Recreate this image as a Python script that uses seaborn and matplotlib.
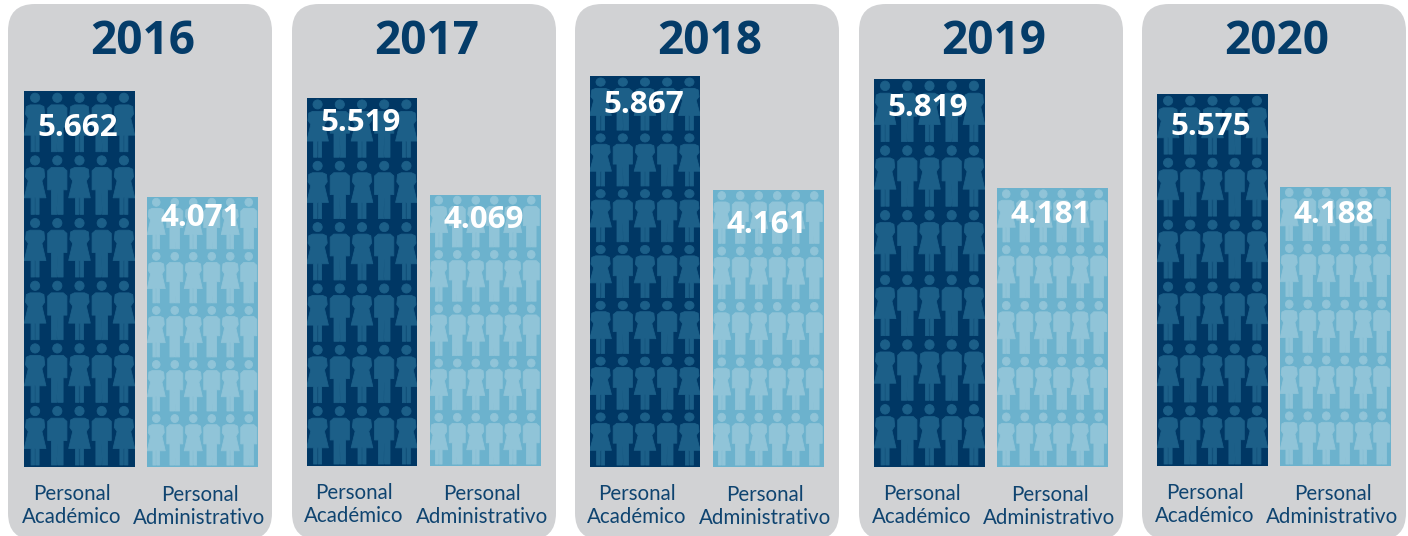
import matplotlib
matplotlib.use("Agg")
import matplotlib.pyplot as plt
import pandas as pd
import seaborn as sns
from matplotlib.patches import FancyBboxPatch, PathPatch
from matplotlib.path import Path
from matplotlib.transforms import Affine2D, ScaledTranslation

years = ["2016", "2017", "2018", "2019", "2020"]
categories = ["Personal\nAcadémico", "Personal\nAdministrativo"]
academico = [5662, 5519, 5867, 5819, 5575]
administrativo = [4071, 4069, 4161, 4181, 4188]

# layout, in pixels of the 1408x536 picture
W, H = 1408, 536
panel_left = [8, 292, 575, 859, 1142]
panel_width = 264
bar_left = [24, 306.5, 589.5, 874, 1157]
bar_bottom = [467, 466, 467, 467, 466]
bar_span = 234
value_drop = [(33, 18), (22, 22), (25, 32), (26, 23), (29, 25)]
rows_dark = [6, 6, 7, 6, 6]
rows_light = [5, 5, 5, 5, 5]
px_per_unit = [0.0664, 0.0667, 0.0666, 0.0667, 0.0667]

DARK = "#003764"
LIGHT = "#6cb2cd"
DARK_ICON = "#1c5f88"
LIGHT_ICON = "#90c4d8"
PANEL = "#d1d2d4"
TEXT = "#0f4470"


def person(woman):
    # drawn for a 22 px column and a 62.5 px row, feet at y=0
    head = Path.circle((0, 54.3), 4.6)
    if woman:
        pts = [(-4, 0.5), (-4, 17), (-10.8, 17), (-6.8, 34), (-9.6, 38), (-8.8, 45.5),
               (-5, 47.2), (5, 47.2), (8.8, 45.5), (9.6, 38), (6.8, 34), (10.8, 17),
               (4, 17), (4, 0.5), (0.6, 0.5), (0.6, 17), (-0.6, 17), (-0.6, 0.5), (-4, 0.5)]
    else:
        pts = [(-5.8, 0.5), (-5.8, 25), (-9.6, 25), (-9.6, 44), (-6, 47.2), (6, 47.2),
               (9.6, 44), (9.6, 25), (5.8, 25), (5.8, 0.5), (0.5, 0.5), (0, 22),
               (-0.5, 0.5), (-5.8, 0.5)]
    return Path.make_compound_path(head, Path(pts, closed=True))


WOMAN = person(True)
MAN = person(False)


def fill_bar(ax, bar, cols, rows, color):
    col_w = bar.get_width() / cols
    row_h = bar.get_height() / rows
    one_px_x = (ax.get_xlim()[1] - ax.get_xlim()[0]) / bar_span
    one_px_y = (ax.get_ylim()[1] - ax.get_ylim()[0]) / 400
    col_px = col_w / one_px_x
    row_px = row_h / one_px_y
    for r in range(rows):
        for c in range(cols):
            icon = WOMAN if c % 2 == 0 else MAN
            tr = (Affine2D().scale(col_px / 22.2 * one_px_x, row_px / 62.5 * one_px_y)
                  .translate(bar.get_x() + (c + 0.5) * col_w, r * row_h + 1.5 * one_px_y))
            p = PathPatch(icon, facecolor=color, edgecolor=color, lw=0.6, joinstyle="round",
                          transform=tr + ax.transData, zorder=3)
            ax.add_patch(p)
            p.set_clip_path(bar)


sns.set_theme(style="white")
plt.rcParams["font.family"] = ["Open Sans", "DejaVu Sans"]

fig = plt.figure(figsize=(W / 100, H / 100), dpi=100)
bg = fig.add_axes([0, 0, 1, 1])
bg.set_xlim(0, W)
bg.set_ylim(H, 0)
bg.axis("off")

for i, year in enumerate(years):
    bg.add_patch(FancyBboxPatch((panel_left[i] + 27, 4 + 27), panel_width - 54, 482,
                                boxstyle="round,pad=27,rounding_size=27",
                                facecolor=PANEL, edgecolor="none"))
    bg.text(panel_left[i] + panel_width / 2 + 3, 36.5, year, ha="center", va="center_baseline",
            fontsize=33, fontweight="bold", color="#043c69")

    ymax = 400 / px_per_unit[i]
    ax = fig.add_axes([bar_left[i] / W, (H - bar_bottom[i]) / H, bar_span / W, 400 / H])
    df = pd.DataFrame({"categoria": categories, "valor": [academico[i], administrativo[i]]})
    sns.barplot(data=df, x="categoria", y="valor", hue="categoria", palette=[DARK, LIGHT],
                saturation=1, width=0.9024, legend=False, linewidth=0, ax=ax)
    ax.set_xlim(-0.4512, 1.4512)
    ax.set_ylim(0, ymax)
    ax.patch.set_alpha(0)
    sns.despine(ax=ax, left=True, bottom=True)
    ax.set_xlabel("")
    ax.set_ylabel("")
    ax.set_yticks([])
    ax.tick_params(axis="x", length=0, pad=12)
    ax.grid(False)

    labels = ax.get_xticklabels()
    for lab, dx, dy in zip(labels, (-8, -3), (0, -1)):
        lab.set_family("Lato")
        lab.set_fontsize(14.8)
        lab.set_color(TEXT)
        lab.set_linespacing(1.2)
        lab.set_transform(lab.get_transform() + ScaledTranslation(dx / 100, dy / 100, fig.dpi_scale_trans))

    bars = list(ax.patches)
    fill_bar(ax, bars[0], 5, rows_dark[i], DARK_ICON)
    fill_bar(ax, bars[1], 6, rows_light[i], LIGHT_ICON)

    for k, bar in enumerate(bars):
        v = int(bar.get_height())
        ax.text(bar.get_x() + bar.get_width() / 2 - 0.012,
                v - value_drop[i][k] / px_per_unit[i], f"{v:,}".replace(",", "."),
                ha="center", va="center_baseline", fontsize=22.6, fontweight="bold",
                color="white", zorder=5)

fig.savefig("out.png", dpi=100)
